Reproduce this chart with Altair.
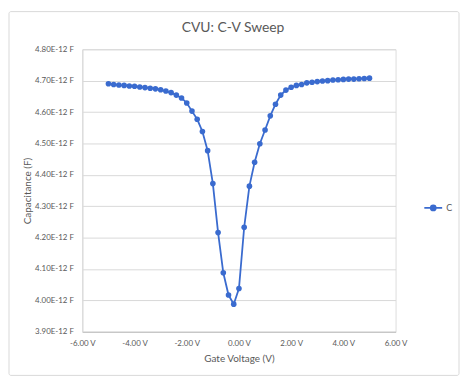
import altair as alt
import pandas as pd

# Gate voltage sweep (V)
voltage = [round(-5 + 0.2 * k, 1) for k in range(51)]
# Capacitance (pF, i.e. x1E-12 F)
capacitance = [
    4.690, 4.688, 4.686, 4.685, 4.683, 4.682, 4.680, 4.678, 4.676, 4.674,
    4.671, 4.667, 4.662, 4.654, 4.645, 4.629, 4.603, 4.577, 4.538, 4.477,
    4.372, 4.216, 4.088, 4.017, 3.988, 4.038, 4.233, 4.364, 4.440, 4.499,
    4.543, 4.588, 4.625, 4.654, 4.670, 4.679, 4.685, 4.688, 4.693, 4.695,
    4.697, 4.699, 4.700, 4.702, 4.703, 4.704, 4.705, 4.705, 4.706, 4.707,
    4.708,
]
series = ["C"] * len(voltage)
x_ticks = [-6, -4, -2, 0, 2, 4, 6]
y_ticks = [3.9, 4.0, 4.1, 4.2, 4.3, 4.4, 4.5, 4.6, 4.7, 4.8]

df = pd.DataFrame({"V": voltage, "C": capacitance, "series": series})

BLUE = "#3A6BCF"
GRAY = "#595959"
FONT = "Lato"

legend_symbol = "M-1.8,0L1.8,0M-0.5,0A0.5,0.5,0,1,1,0.5,0A0.5,0.5,0,1,1,-0.5,0Z"

line = alt.Chart(df).mark_line(
    point=alt.OverlayMarkDef(filled=True, size=32), strokeWidth=1.8
).encode(
    x=alt.X("V:Q",
            scale=alt.Scale(domain=[-6, 6], nice=False),
            axis=alt.Axis(values=x_ticks, grid=False, ticks=False,
                          domain=True, domainColor="#BFBFBF",
                          labelExpr="replace(format(datum.value, '.2f'), '\u2212', '-') + ' V'",
                          labelFlush=False, labelOverlap=False,
                          labelPadding=8, labelFontSize=8, labelColor=GRAY,
                          labelFont=FONT,
                          title="Gate Voltage (V)", titleFontSize=10,
                          titleFontWeight="normal", titleColor=GRAY,
                          titleFont=FONT, titleY=27, titleBaseline="middle")),
    y=alt.Y("C:Q",
            scale=alt.Scale(domain=[3.9, 4.8], nice=False, zero=False),
            axis=alt.Axis(values=y_ticks, grid=True, gridColor="#D9D9D9",
                          ticks=False, domain=True, domainColor="#D9D9D9",
                          labelExpr="format(datum.value, '.2f') + 'E-12 F'",
                          labelFlush=False, labelOverlap=False,
                          labelPadding=9, labelFontSize=8, labelColor=GRAY,
                          labelFont=FONT,
                          title="Capacitance (F)", titleFontSize=10,
                          titleFontWeight="normal", titleColor=GRAY,
                          titleFont=FONT, titleX=-55, titleY=142.5,
                          titleAngle=270, titleAlign="center",
                          titleBaseline="middle")),
    color=alt.Color("series:N",
                    scale=alt.Scale(range=[BLUE]),
                    legend=alt.Legend(title=None, orient="none",
                                      legendX=348, legendY=154,
                                      padding=0,
                                      symbolType=legend_symbol,
                                      symbolSize=100, symbolStrokeWidth=1.8,
                                      symbolFillColor=BLUE,
                                      labelFontSize=9, labelColor=GRAY,
                                      labelFont=FONT, labelOffset=7)),
)

frame = alt.Chart(pd.DataFrame({"a": [0]})).mark_rect(
    fill=None, stroke="#D9D9D9", strokeWidth=1, cornerRadius=2
).encode(
    x=alt.value(-74), x2=alt.value(380), y=alt.value(-38), y2=alt.value(329)
)

chart = alt.layer(frame, line).properties(
    width=316, height=285,
    title=alt.Title("CVU: C-V Sweep", fontSize=14, fontWeight="normal",
                    color=GRAY, font=FONT, dx=-6, dy=28),
    autosize=alt.AutoSizeParams(type="none"),
    padding={"left": 75, "top": 40, "right": 66, "bottom": 47},
).configure_view(stroke=None).configure(background="white")

chart.save("out.html", embed_options={"renderer": "svg", "actions": False})
